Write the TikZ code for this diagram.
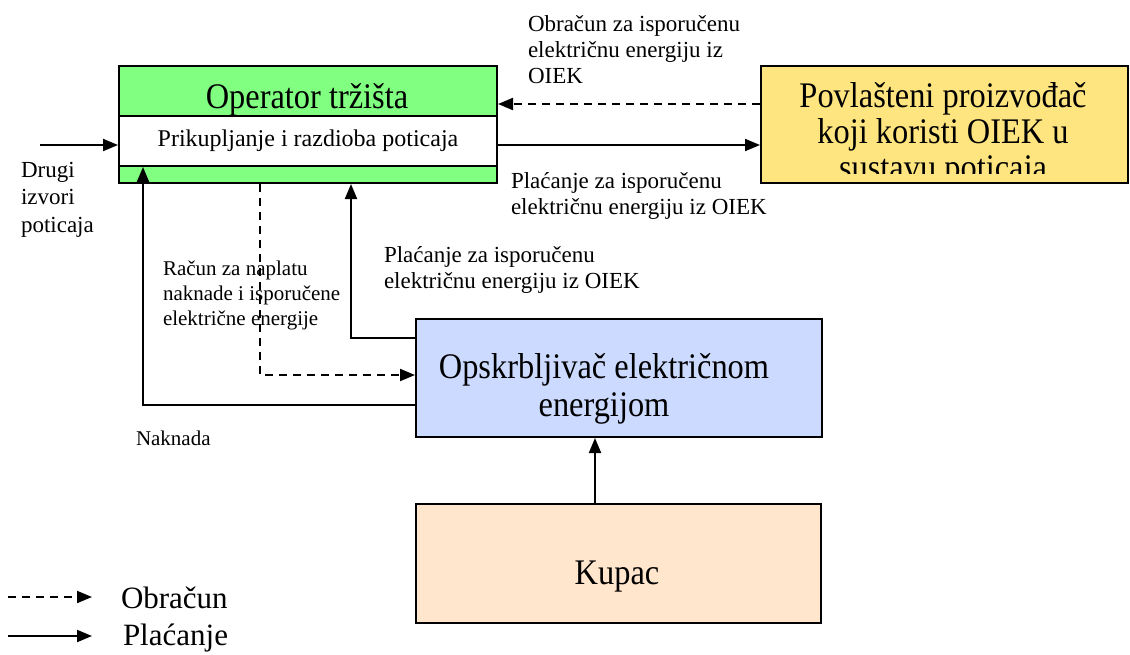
\documentclass[tikz,border=0pt]{standalone}
\usepackage{fontspec}
\setmainfont{Liberation Serif}
\newfontfamily\boxfont{Liberation Serif}[FakeStretch=0.9]
\usetikzlibrary{arrows.meta}
\definecolor{opgreen}{RGB}{128,255,128}
\definecolor{ppyellow}{RGB}{255,229,128}
\definecolor{opblue}{RGB}{204,218,255}
\definecolor{kpeach}{RGB}{255,230,205}
\begin{document}
\begin{tikzpicture}[x=1pt,y=-1pt,
  line width=2pt,
  tip/.style={-{Triangle[length=15pt,width=12pt]}},
  dsh/.style={dash pattern=on 8pt off 6pt},
  box/.style={draw,line width=2pt,inner sep=0,anchor=north west},
  lbl/.style={align=left,anchor=north west,inner sep=0,font=\fontsize{23}{26}\selectfont},
  big/.style={font=\boxfont\fontsize{36}{36}\selectfont,align=center,inner sep=0},
  leg/.style={font=\fontsize{31}{36}\selectfont,anchor=west,inner sep=0}]

\useasboundingbox (0,0) rectangle (1130,654);

% Operator box
\node[box, fill=opgreen, minimum width=378pt, minimum height=117pt] (op) at (118,65) {};
\node[box, fill=white, minimum width=378pt, minimum height=50pt,
      font=\fontsize{24}{26}\selectfont] (band) at (118,115) {Prikupljanje i razdioba poticaja};
\node[big, anchor=north] (optitle) at (307,82) {Operator tržišta};

% Povlasteni proizvodac
\node[box, fill=ppyellow, minimum width=367pt, minimum height=117pt] (pp) at (760,65) {};
\begin{scope}
  \clip (761,66) rectangle (1126,173);
  \node[big, anchor=north] (pptext) at (943,81) {Povlašteni proizvođač\\koji koristi OIEK u\\sustavu poticaja};
\end{scope}

% Opskrbljivac
\node[box, fill=opblue, minimum width=406pt, minimum height=118pt] (sup) at (415,318) {};
\node[big, anchor=north, font=\boxfont\fontsize{36}{38}\selectfont] (suptext) at (604,352) {Opskrbljivač električnom\\energijom};

% Kupac
\node[box, fill=kpeach, minimum width=405pt, minimum height=119pt] (kup) at (415,503) {};
\node[big, anchor=base] (kuptext) at (617,584) {Kupac};

% Connectors
\draw[tip, dsh] (pp.west |- 0,104) -- (op.east |- 0,104);
\draw[tip] (op.east |- 0,145) -- (pp.west |- 0,145);
\coordinate (drugi) at (40,145);
\draw[tip] (drugi) -- (op.west |- 0,145);
\draw[tip] (sup.west |- 0,405) -| (band.south -| 143,0);
\draw[tip] (sup.west |- 0,338) -| (op.south -| 351,0);
\draw[tip, dsh] (op.south -| 260,0) |- (sup.west |- 0,375);
\draw[tip] (kup.north -| 595,0) -- (sup.south -| 595,0);

% Labels
\node[lbl] (lblA) at (527,14) {Obračun za isporučenu\\električnu energiju iz\\OIEK};
\node[lbl] (lblB) at (510,171) {Plaćanje za isporučenu\\električnu energiju iz OIEK};
\node[lbl] (lblC) at (383,245) {Plaćanje za isporučenu\\električnu energiju iz OIEK};
\node[lbl, font=\fontsize{21}{25}\selectfont] (lblD) at (162,260) {Račun za naplatu\\naknade i isporučene\\električne energije};
\node[lbl, font=\fontsize{23}{27.5}\selectfont] (lblE) at (20,161) {Drugi\\izvori\\poticaja};
\node[lbl, font=\fontsize{21}{25}\selectfont] (lblF) at (135,430) {Naknada};

% Legend
\coordinate (l1a) at (8,597);
\coordinate (l1b) at (92,597);
\coordinate (l2a) at (8,636);
\coordinate (l2b) at (92,636);
\draw[tip, dsh] (l1a) -- (l1b);
\draw[tip] (l2a) -- (l2b);
\node[leg] (legA) at (120,598) {Obračun};
\node[leg] (legB) at (122,638) {Plaćanje};
\end{tikzpicture}
\end{document}
